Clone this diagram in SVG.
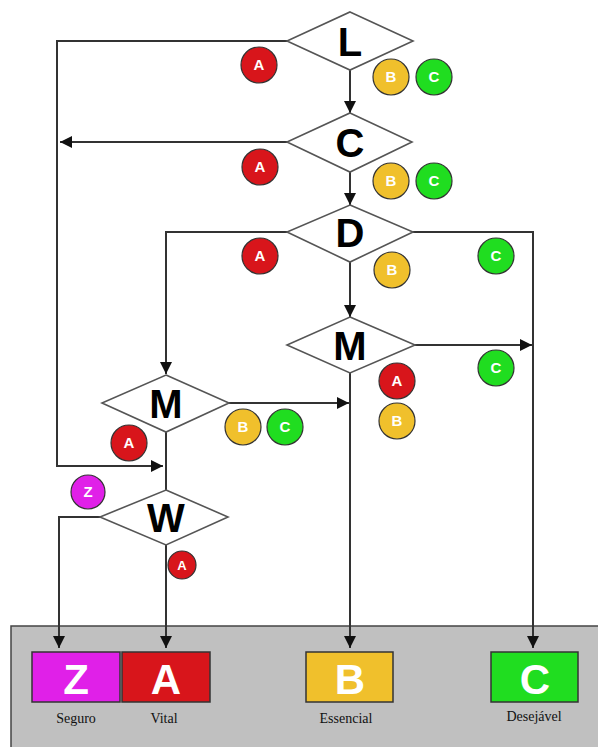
<svg xmlns="http://www.w3.org/2000/svg" width="598" height="747" viewBox="0 0 598 747">
<style>
.dia{fill:#fff;stroke:#555;stroke-width:1.6}
.dl{font-family:"Liberation Sans",Arial,sans-serif;font-weight:bold;font-size:40px;fill:#000;text-anchor:middle}
.ln{fill:none;stroke:#333;stroke-width:2}
.cir{stroke:#333;stroke-width:1.2}
.ct{font-family:"Liberation Sans",Arial,sans-serif;font-weight:bold;font-size:15px;fill:#fff;text-anchor:middle}
.bx{stroke:#333;stroke-width:1.5}
.bt{font-family:"Liberation Sans",Arial,sans-serif;font-weight:bold;font-size:42px;fill:#fff;text-anchor:middle}
.lbl{font-family:"Liberation Serif","Times New Roman",serif;font-size:14px;fill:#111;text-anchor:middle}
.r{fill:#d8151b}.y{fill:#f0c02c}.g{fill:#20dd20}.m{fill:#e020e8}
</style>
<defs>
<marker id="ah" viewBox="0 0 10 10" refX="10" refY="5" markerWidth="6" markerHeight="6" orient="auto" markerUnits="userSpaceOnUse">
<path d="M0,0 L10,5 L0,10 z" fill="#111"/>
</marker>
<marker id="ahb" viewBox="0 0 10 10" refX="10" refY="5" markerWidth="12" markerHeight="12" orient="auto" markerUnits="userSpaceOnUse">
<path d="M0,0 L10,5 L0,10 z" fill="#111"/>
</marker>
</defs>
<rect x="0" y="0" width="598" height="747" fill="#fff"/>
<g id="panel">
<rect x="11" y="626" width="590" height="125" fill="#c0c0c0" stroke="#444" stroke-width="1.5"/>
</g>
<g id="connectors">
<polyline class="ln" points="287,41 57,41 57,466 163,466" marker-end="url(#ahb)"/>
<line class="ln" x1="287" y1="142" x2="60" y2="142" marker-end="url(#ahb)"/>
<line class="ln" x1="350" y1="70" x2="350" y2="113" marker-end="url(#ahb)"/>
<line class="ln" x1="350" y1="172" x2="350" y2="205" marker-end="url(#ahb)"/>
<polyline class="ln" points="287,232 166,232 166,374" marker-end="url(#ahb)"/>
<polyline class="ln" points="413,232 533,232 533,648" marker-end="url(#ahb)"/>
<line class="ln" x1="350" y1="262" x2="350" y2="317" marker-end="url(#ahb)"/>
<line class="ln" x1="415" y1="345" x2="532" y2="345" marker-end="url(#ahb)"/>
<line class="ln" x1="229" y1="403" x2="349" y2="403" marker-end="url(#ahb)"/>
<line class="ln" x1="350" y1="373" x2="350" y2="648" marker-end="url(#ahb)"/>
<line class="ln" x1="166" y1="432" x2="166" y2="490"/>
<polyline class="ln" points="100,517 59,517 59,648" marker-end="url(#ahb)"/>
<line class="ln" x1="166" y1="545" x2="166" y2="648" marker-end="url(#ahb)"/>
</g>
<g id="node-L"><polygon class="dia" points="350,12 413,41 350,70 287,41"/><text class="dl" x="350" y="56">L</text></g>
<g id="node-C"><polygon class="dia" points="350,113 412,142 350,172 287,142"/><text class="dl" x="350" y="157">C</text></g>
<g id="node-D"><polygon class="dia" points="350,205 413,232 350,262 287,232"/><text class="dl" x="350" y="247">D</text></g>
<g id="node-M2"><polygon class="dia" points="350,317 415,345 350,373 287,345"/><text class="dl" x="350" y="360">M</text></g>
<g id="node-M1"><polygon class="dia" points="166,375 229,403 166,432 102,403"/><text class="dl" x="166" y="418">M</text></g>
<g id="node-W"><polygon class="dia" points="166,490 228,517 166,545 100,517"/><text class="dl" x="166" y="532">W</text></g>
<g id="badges">
<circle class="cir r" cx="259" cy="65" r="18"/><text class="ct" x="259" y="70">A</text>
<circle class="cir y" cx="391" cy="77" r="18"/><text class="ct" x="391" y="82">B</text>
<circle class="cir g" cx="434" cy="77" r="18"/><text class="ct" x="434" y="82">C</text>
<circle class="cir r" cx="260" cy="167" r="18"/><text class="ct" x="260" y="172">A</text>
<circle class="cir y" cx="391" cy="181" r="18"/><text class="ct" x="391" y="186">B</text>
<circle class="cir g" cx="434" cy="181" r="18"/><text class="ct" x="434" y="186">C</text>
<circle class="cir r" cx="260" cy="256" r="18"/><text class="ct" x="260" y="261">A</text>
<circle class="cir y" cx="392" cy="270" r="18"/><text class="ct" x="392" y="275">B</text>
<circle class="cir g" cx="496" cy="256" r="18"/><text class="ct" x="496" y="261">C</text>
<circle class="cir r" cx="397" cy="381" r="18"/><text class="ct" x="397" y="386">A</text>
<circle class="cir y" cx="397" cy="421" r="18"/><text class="ct" x="397" y="426">B</text>
<circle class="cir g" cx="496" cy="368" r="18"/><text class="ct" x="496" y="373">C</text>
<circle class="cir y" cx="243" cy="427" r="18"/><text class="ct" x="243" y="432">B</text>
<circle class="cir g" cx="285" cy="427" r="18"/><text class="ct" x="285" y="432">C</text>
<circle class="cir r" cx="129" cy="443" r="18"/><text class="ct" x="129" y="448">A</text>
<circle class="cir m" cx="88" cy="492" r="17"/><text class="ct" x="88" y="497">Z</text>
<circle class="cir r" cx="182" cy="565" r="14"/><text class="ct" x="182" y="570" style="font-size:13px">A</text>
</g>
<g id="box-Z"><rect class="bx m" x="32" y="652" width="88" height="50"/><text class="bt" x="76" y="694">Z</text><text class="lbl" x="76" y="723">Seguro</text></g>
<g id="box-A"><rect class="bx r" x="122" y="652" width="88" height="50"/><text class="bt" x="166" y="694">A</text><text class="lbl" x="164" y="723">Vital</text></g>
<g id="box-B"><rect class="bx y" x="306" y="652" width="87" height="50"/><text class="bt" x="350" y="694">B</text><text class="lbl" x="346" y="723">Essencial</text></g>
<g id="box-C"><rect class="bx g" x="491" y="652" width="87" height="50"/><text class="bt" x="535" y="694">C</text><text class="lbl" x="534" y="721">Desejável</text></g>
</svg>
